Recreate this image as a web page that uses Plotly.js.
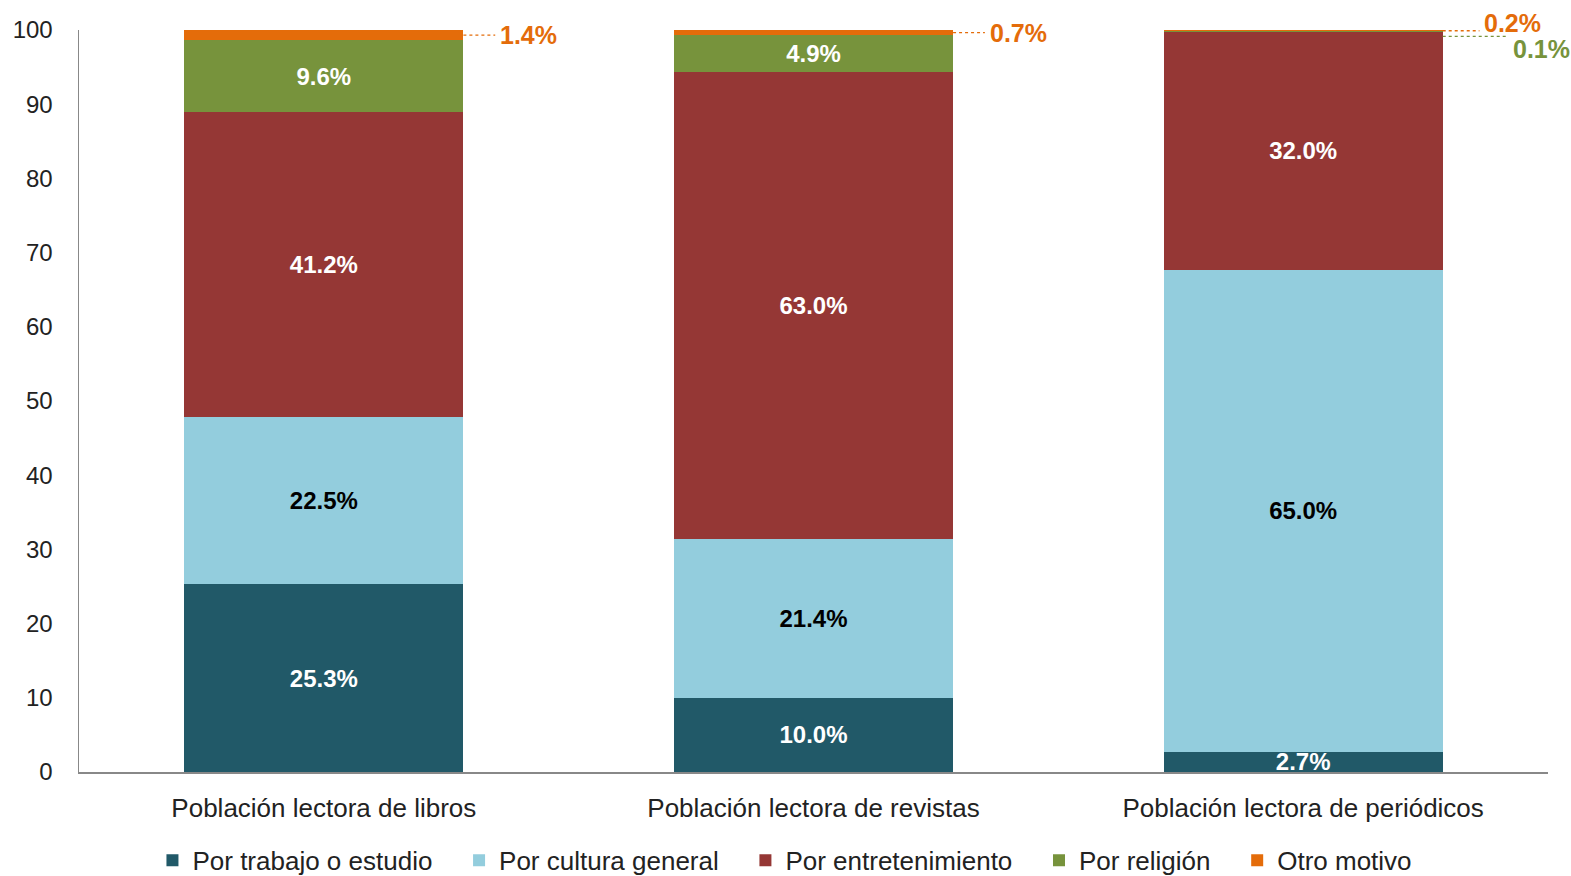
<!DOCTYPE html>
<html>
<head>
<meta charset="utf-8">
<script src="https://cdn.plot.ly/plotly-3.0.1.min.js"></script>
<style>html,body{margin:0;padding:0;background:#fff;}#chart{width:1571px;height:876px;}</style>
</head>
<body>
<div id="chart"></div>
<script>
const categories = ["Población lectora de libros", "Población lectora de revistas", "Población lectora de periódicos"];
const seriesNames = ["Por trabajo o estudio", "Por cultura general", "Por entretenimiento", "Por religión", "Otro motivo"];
const trabajo = [25.3, 10.0, 2.7];
const cultura = [22.5, 21.4, 65.0];
const entretenimiento = [41.2, 63.0, 32.0];
const religion = [9.6, 4.9, 0.1];
const otro = [1.4, 0.7, 0.2];
const colors = ["#215968", "#93CDDD", "#953735", "#77933C", "#E46C0A"];
const labelColors = ["#ffffff", "#000000", "#ffffff", "#ffffff", "#ffffff"];

const FONT = '"Liberation Sans Narrow", "Arial Narrow", "Liberation Sans", Arial, sans-serif';
const series = [trabajo, cultura, entretenimiento, religion, otro];
const xpos = categories.map((c, i) => i);
const BW = 0.57;
const PAD = "\u00a0\u00a0\u00a0";

const traces = series.map((vals, s) => ({
  type: "bar",
  name: seriesNames[s] + (s < series.length - 1 ? PAD : ""),
  x: xpos,
  y: vals,
  width: BW,
  marker: { color: colors[s], line: { width: 0 } },
  text: vals.map(v => v >= 2 ? v.toFixed(1) + "%" : ""),
  textposition: "inside",
  insidetextanchor: "middle",
  textangle: 0,
  constraintext: "none",
  textfont: { family: FONT, size: 24, color: labelColors[s], weight: "bold" },
  hoverinfo: "name+y"
}));

const shapes = [];
const annotations = [];
function cum(s, i) { let t = 0; for (let k = 0; k <= s; k++) t += series[k][i]; return t; }
const outside = [
  { s: 4, i: 0, dy: 0, len: 0.065, ly: 0 },
  { s: 4, i: 1, dy: 0, len: 0.065, ly: 0 },
  { s: 4, i: 2, dy: 8, len: 0.075, ly: 0 },
  { s: 3, i: 2, dy: -17, len: 0.133, ly: -0.6 }
];
outside.forEach(o => {
  const v = series[o.s][o.i];
  const yc = cum(o.s, o.i) - v / 2;
  const x0 = xpos[o.i] + BW / 2;
  const x1 = x0 + o.len;
  shapes.push({ type: "line", xref: "x", yref: "y", x0: x0, x1: x1, y0: yc + o.ly, y1: yc + o.ly,
    line: { color: colors[o.s], width: 1.3, dash: "dot" } });
  annotations.push({ xref: "x", yref: "y", x: x1 + 0.006, y: yc, yshift: o.dy, xanchor: "left", yanchor: "middle",
    text: v.toFixed(1) + "%", showarrow: false,
    font: { family: FONT, size: 25, color: colors[o.s], weight: "bold" } });
});

const layout = {
  width: 1571, height: 876,
  margin: { l: 79, r: 23, t: 30, b: 104 },
  barmode: "stack",
  paper_bgcolor: "#fff", plot_bgcolor: "#fff",
  font: { family: FONT, size: 24, color: "#222" },
  showlegend: true,
  legend: { orientation: "h", xref: "paper", yref: "container", x: 0.05, xanchor: "left", y: 0.018, yanchor: "middle",
    font: { family: FONT, size: 26, color: "#222" }, traceorder: "normal", itemwidth: 30, tracegroupgap: 0 },
  xaxis: {
    tickmode: "array", tickvals: xpos, ticktext: categories,
    range: [-0.5, 2.5], showgrid: false, zeroline: false,
    showline: true, linecolor: "#888", linewidth: 1.5, ticks: "", ticklabelstandoff: 12,
    tickfont: { family: FONT, size: 26, color: "#222" }
  },
  yaxis: {
    range: [0, 100], tickvals: [0,10,20,30,40,50,60,70,80,90,100],
    showgrid: false, zeroline: false, showline: true, linecolor: "#888", linewidth: 1.5,
    ticks: "", ticklabelstandoff: 20,
    tickfont: { family: FONT, size: 24, color: "#222" }
  },
  shapes: shapes,
  annotations: annotations
};

Plotly.newPlot("chart", traces, layout, { displayModeBar: false, staticPlot: true });
</script>
</body>
</html>
